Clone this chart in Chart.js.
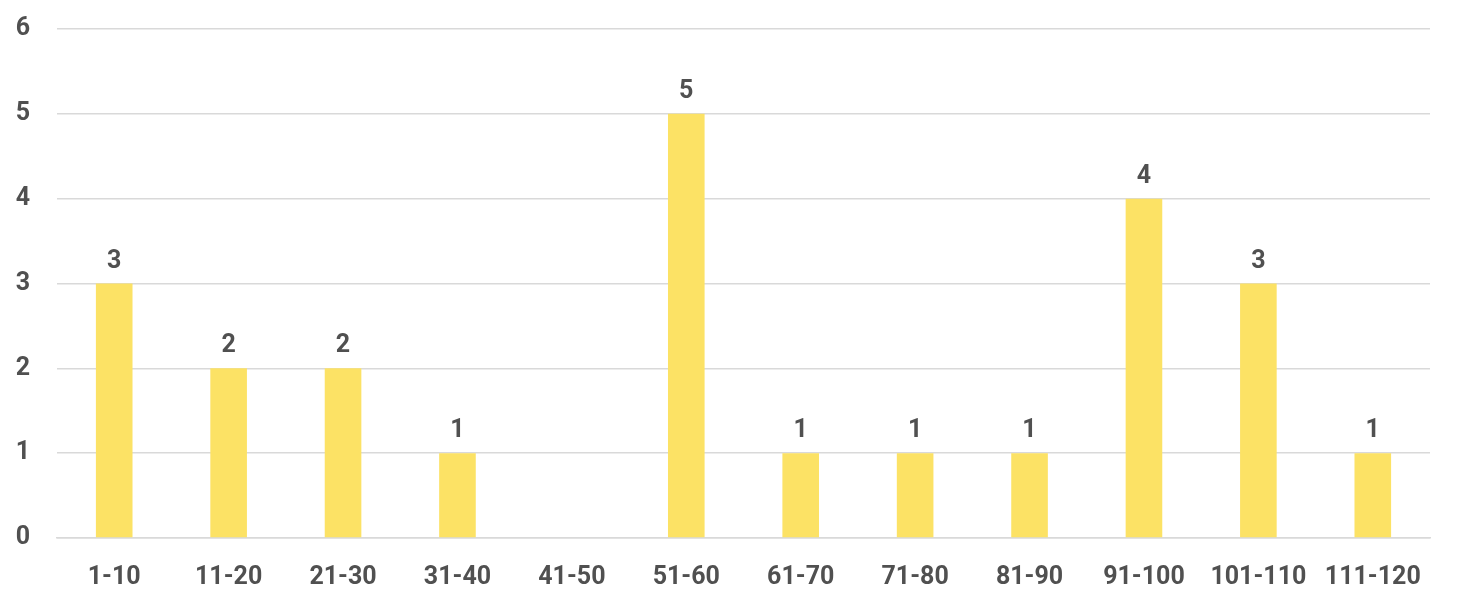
<!DOCTYPE html>
<html><head><meta charset="utf-8">
<script src="https://cdn.jsdelivr.net/npm/chart.js@4/dist/chart.umd.min.js"></script>
<style>html,body{margin:0;padding:0;background:#fff}#wrap{width:1460px;height:608px}</style>
</head><body><div id="wrap"><canvas id="c" width="1460" height="608"></canvas></div>
<script>
const categories = ["1-10","11-20","21-30","31-40","41-50","51-60","61-70","71-80","81-90","91-100","101-110","111-120"];
const counts = [3,2,2,1,0,5,1,1,1,4,3,1];
const yTicks = [0,1,2,3,4,5,6];

const FONT = "Roboto, 'Liberation Sans', sans-serif";
const TEXT = '#505050';

const valueLabels = {
  id: 'valueLabels',
  afterDatasetsDraw(chart) {
    const ctx = chart.ctx;
    const meta = chart.getDatasetMeta(0);
    ctx.save();
    ctx.font = 'bold 25px ' + FONT;
    ctx.fillStyle = TEXT;
    ctx.textAlign = 'center';
    ctx.textBaseline = 'alphabetic';
    meta.data.forEach((el, i) => {
      const v = counts[i];
      if (!v) return;
      ctx.fillText(String(v), el.x, el.y - 16);
    });
    ctx.restore();
  }
};

new Chart(document.getElementById('c'), {
  type: 'bar',
  data: {
    labels: categories,
    datasets: [{ data: counts, backgroundColor: '#FCE265', borderWidth: 0, barPercentage: 0.32, categoryPercentage: 1.0 }]
  },
  options: {
    responsive: false,
    animation: false,
    layout: { padding: { top: 29, right: 30, left: 14, bottom: 0 } },
    plugins: { legend: { display: false }, tooltip: { enabled: false } },
    scales: {
      x: {
        grid: { display: false, drawTicks: false },
        border: { display: true, color: '#d9d9d9', width: 1.5 },
        ticks: { color: TEXT, font: { family: FONT, size: 25, weight: 'bold' }, padding: 25, maxRotation: 0 },
        afterFit(scale) { scale.height = 70; scale.paddingLeft = 0; scale.paddingRight = 0; }
      },
      y: {
        min: 0, max: 6,
        afterBuildTicks(scale) { scale.ticks = yTicks.map(v => ({ value: v })); },
        grid: { color: '#d9d9d9', lineWidth: 1.5, drawTicks: false },
        border: { display: false },
        ticks: { color: TEXT, font: { family: FONT, size: 25, weight: 'bold' }, padding: 27 },
        afterFit(scale) { scale.width = 43; scale.paddingTop = 0; scale.paddingBottom = 0; }
      }
    }
  },
  plugins: [valueLabels]
});
</script></body></html>
